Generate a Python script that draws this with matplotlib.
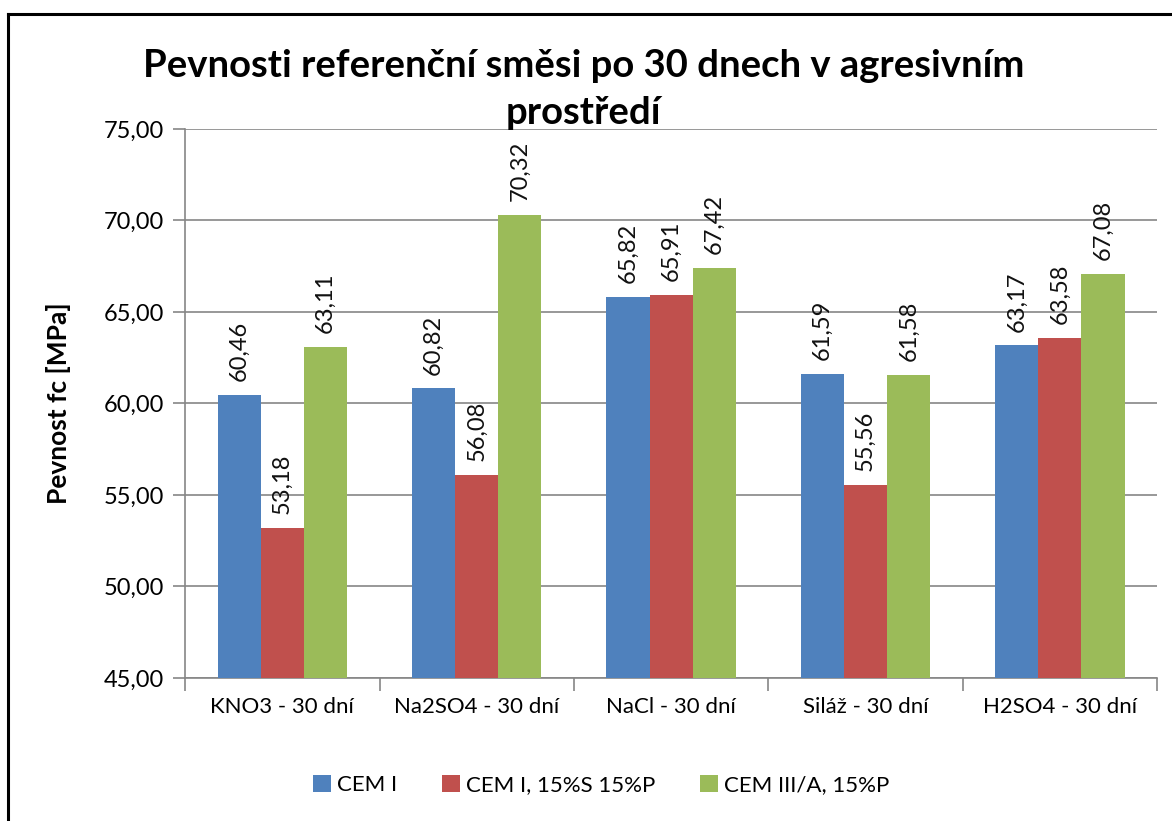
import numpy as np
import matplotlib
matplotlib.use('Agg')
from matplotlib import pyplot as plt
from matplotlib.lines import Line2D

plt.rcParams['font.family'] = ['Lato', 'DejaVu Sans']

categories = ['KNO3 - 30 dní', 'Na2SO4 - 30 dní', 'NaCl - 30 dní', 'Siláž - 30 dní', 'H2SO4 - 30 dní']
series_names = ['CEM I', 'CEM I, 15%S 15%P', 'CEM III/A, 15%P']
cem_i = [60.46, 60.82, 65.82, 61.59, 63.17]
cem_i_sp = [53.18, 56.08, 65.91, 55.56, 63.58]
cem_iii = [63.11, 70.32, 67.42, 61.58, 67.08]
yticks = [45, 50, 55, 60, 65, 70, 75]
title_lines = ['Pevnosti referenční směsi po 30 dnech v agresivním', 'prostředí']

colors = ['#4F81BD', '#C0504D', '#9BBB59']

fig = plt.figure(figsize=(11.72, 8.21), dpi=100)
ax = fig.add_axes([0.158, 0.1742, 0.8292, 0.6687])

x = np.arange(len(categories))
width = 0.222
for i, (vals, name) in enumerate(zip([cem_i, cem_i_sp, cem_iii], series_names)):
    pos = x + (i - 1) * width
    ax.bar(pos, vals, width, color=colors[i], label=name, zorder=3)
    for xp, v in zip(pos, vals):
        ax.annotate(f'{v:.2f}'.replace('.', ','), (xp, v), xytext=(0, 10),
                    textcoords='offset points', rotation=90, ha='center', va='bottom',
                    fontsize=17, color='#111111')

ax.set_ylim(45, 75)
ax.set_xlim(-0.5, len(categories) - 0.5)
ax.set_yticks(yticks)
ax.set_yticklabels([f'{t:.2f}'.replace('.', ',') for t in yticks], fontsize=17)
ax.set_xticks(x)
ax.set_xticklabels(categories, fontsize=16)
ax.set_xticks(np.arange(-0.5, len(categories)), minor=True)
ax.tick_params(axis='x', which='major', length=0, pad=14)
ax.tick_params(axis='x', which='minor', length=9, color='#868686', width=1.2)
ax.tick_params(axis='y', length=9, color='#868686', width=1.2, pad=6)
ax.yaxis.grid(True, color='#868686', linewidth=1.2, zorder=0)
ax.set_axisbelow(True)
for s in ['top', 'right']:
    ax.spines[s].set_visible(False)
for s in ['left', 'bottom']:
    ax.spines[s].set_color('#868686')
    ax.spines[s].set_linewidth(1.2)

ax.set_ylabel('Pevnost fc [MPa]', fontsize=19, fontweight='bold', labelpad=24)

# title as two separate lines (second line sits over the top gridline, as in the original)
fig.text(0.498, 1 - 66 / 821, title_lines[0], ha='center', va='center',
         fontsize=27.5, fontweight='bold')
fig.text(0.498, 1 - 113 / 821, title_lines[1], ha='center', va='center',
         fontsize=27.5, fontweight='bold')

fig.legend(loc='center', bbox_to_anchor=(0.513, 0.044), ncol=3, frameon=False,
           fontsize=16, handlelength=0.8, handleheight=0.8, handletextpad=0.3,
           columnspacing=2.0)

# frame lines (left and top)
fig.add_artist(Line2D([0.0068, 0.0068], [0, 0.983], transform=fig.transFigure,
                      color='black', linewidth=2.2))
fig.add_artist(Line2D([0.0068, 1.0], [0.983, 0.983], transform=fig.transFigure,
                      color='black', linewidth=2.2))

fig.savefig('out.png', dpi=100)
